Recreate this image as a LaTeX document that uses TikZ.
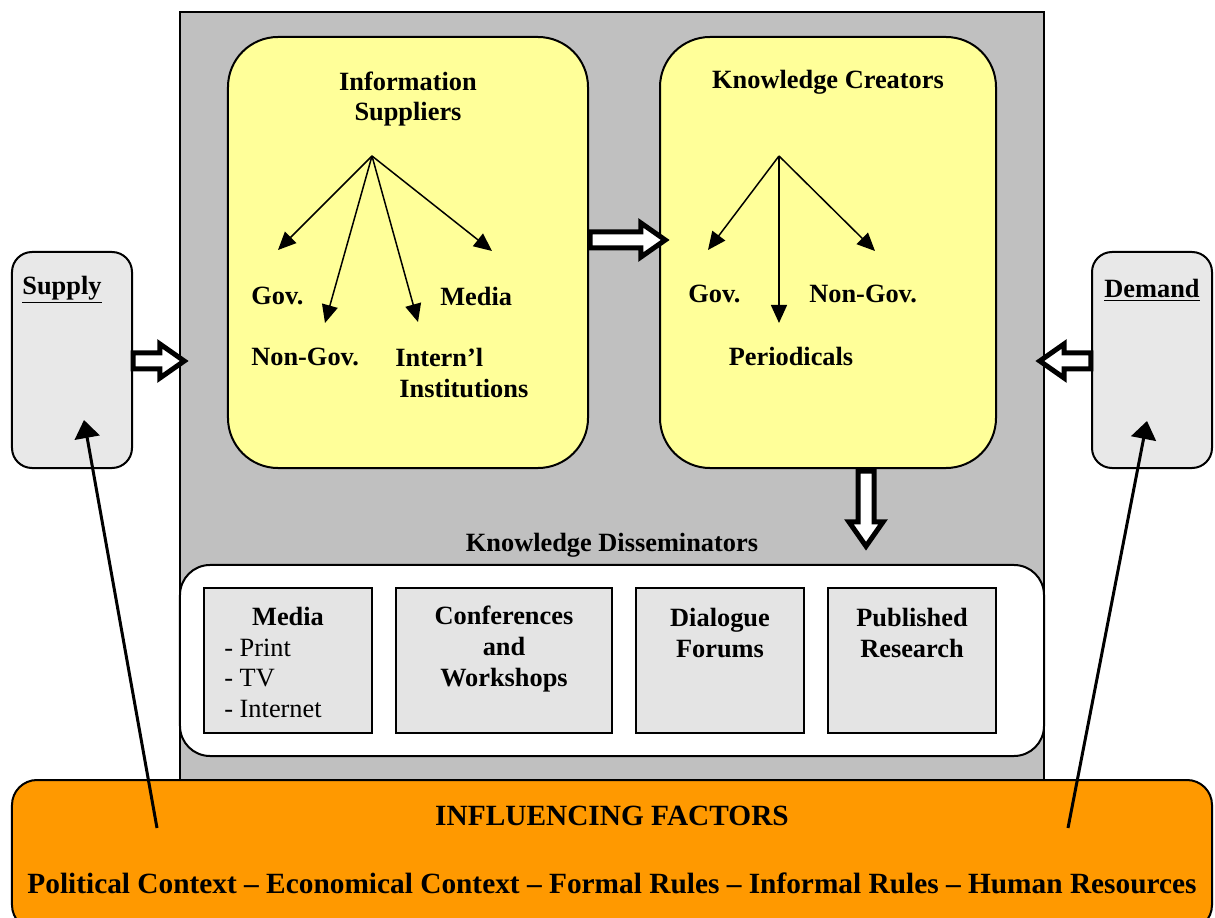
\documentclass[tikz,border=0pt]{standalone}
\usepackage{fontspec}
\setmainfont{Liberation Serif}
\usetikzlibrary{shapes.arrows,arrows.meta}

\definecolor{panelgrey}{HTML}{C0C0C0}
\definecolor{paleyellow}{HTML}{FFFF99}
\definecolor{sidegrey}{HTML}{E8E8E8}
\definecolor{granite}{HTML}{E4E4E4}
\definecolor{factororange}{HTML}{FF9900}

\tikzset{
  box/.style={draw, line width=0.4mm, inner sep=0pt},
  actor/.style={box, fill=paleyellow, rounded corners=10mm, minimum width=72mm, minimum height=86.2mm},
  side/.style={box, fill=sidegrey, rounded corners=4mm, minimum width=24mm, minimum height=43.2mm},
  channel/.style={draw, line width=0.3mm, fill=granite, inner sep=0pt, minimum height=29mm},
  txt/.style={font=\bfseries\fontsize{15}{17.6}\selectfont, align=center, inner sep=0pt},
  bigtxt/.style={txt, font=\bfseries\fontsize{16.7}{19}\selectfont},
  plain/.style={font=\fontsize{15}{17.3}\selectfont, align=left, inner sep=0pt},
  fat/.style={single arrow, draw, fill=white, line width=1mm, inner sep=1.1mm,
    single arrow head extend=1.8mm, single arrow tip angle=70, single arrow head indent=0pt},
  branch/.style={line width=0.3mm, -{Triangle[length=3.6mm,width=3.2mm]}},
  pull/.style={line width=0.6mm, -{Triangle[length=3.6mm,width=5mm]}},
}

\begin{document}
\begin{tikzpicture}[x=0.2mm,y=-0.2mm]

\useasboundingbox (0,0) rectangle (1215,918);
\clip (0,0) rectangle (1215,918);

\node[box, fill=panelgrey, minimum width=172.8mm, minimum height=155.6mm] (panel) at (612,401) {};
\node[actor] (infosup) at (408,252.5) {};
\node[actor, minimum width=67.2mm] (knowcre) at (828,252.5) {};
\node[side] (supply) at (72,360) {};
\node[side] (demand) at (1152,360) {};

\node[box, fill=white, rounded corners=6mm, minimum width=172.8mm, minimum height=38.2mm] (dissem) at (612,660.5) {};
\node[channel, minimum width=33.6mm] (media) at (288,660.5) {};
\node[channel, minimum width=43.2mm] (confs) at (504,660.5) {};
\node[channel, minimum width=33.6mm] (dialogue) at (720,660.5) {};
\node[channel, minimum width=33.6mm] (research) at (912,660.5) {};

\node[box, fill=factororange, rounded corners=5mm, minimum width=240mm, minimum height=30mm] (factors) at (612,855) {};

\node[txt] (supplylbl) at (62,290) {\underline{Supply}};
\node[txt] (demandlbl) at (1152,290) {\underline{Demand}};

\node[txt] (istitle) at (408,99) {Information\\Suppliers};
\node[txt, anchor=west] (isgov) at (251,296) {Gov.};
\node[txt, anchor=west] (ismedia) at (440,296) {Media};
\node[txt, anchor=west] (isngo) at (251,357) {Non-Gov.};
\node[txt, anchor=west, align=left] (isintl) at (395,373) {Intern’l\\\hspace*{0.8mm}Institutions};

\coordinate (isroot) at (372,156);
\coordinate (isgovend) at (278,250);
\coordinate (isngoend) at (325,323);
\coordinate (isintlend) at (418,322);
\coordinate (ismediaend) at (492,251);

\draw[branch] (isroot) -- (isgovend);
\draw[branch] (isroot) -- (isngoend);
\draw[branch] (isroot) -- (isintlend);
\draw[branch] (isroot) -- (ismediaend);

\node[txt] (kctitle) at (828,82) {Knowledge Creators};
\node[txt, anchor=west] (kcgov) at (688,294) {Gov.};
\node[txt, anchor=west] (kcngo) at (809,294) {Non-Gov.};
\node[txt] (kcper) at (791,356) {Periodicals};

\coordinate (kcroot) at (779,156);
\coordinate (kcgovend) at (708,250);
\coordinate (kcperend) at (779,323);
\coordinate (kcngoend) at (875,251);

\draw[branch] (kcroot) -- (kcgovend);
\draw[branch] (kcroot) -- (kcperend);
\draw[branch] (kcroot) -- (kcngoend);

\node[txt] (distitle) at (612,545) {Knowledge Disseminators};
\node[txt] (mediatitle) at (288,616) {Media};
\node[plain, anchor=west] (medialist) at (224,678) {- Print\\- TV\\- Internet};
\node[txt] (confstxt) at (504,649) {Conferences\\and\\Workshops};
\node[txt] (dialoguetxt) at (720,633) {Dialogue\\Forums};
\node[txt] (researchtxt) at (912,633) {Published\\Research};

\node[bigtxt] (factorstitle) at (612,816) {INFLUENCING FACTORS};
\node[bigtxt] (factorslist) at (612,883) {Political Context – Economical Context – Formal Rules – Informal Rules – Human Resources};

\node[fat, minimum height=15mm] (istokc) at (622,240) {};
\node[fat, minimum height=10.2mm] (supin) at (153,361) {};
\node[fat, minimum height=10.2mm, shape border rotate=180] (demin) at (1071,361) {};
\node[fat, minimum height=15mm, shape border rotate=270] (kctodis) at (866,503) {};

\coordinate (supfoot) at (157,828);
\coordinate (suptip) at (84,420);
\coordinate (demfoot) at (1068,828);
\coordinate (demtip) at (1147,421);

\draw[pull] (supfoot) -- (suptip);
\draw[pull] (demfoot) -- (demtip);

\end{tikzpicture}
\end{document}
